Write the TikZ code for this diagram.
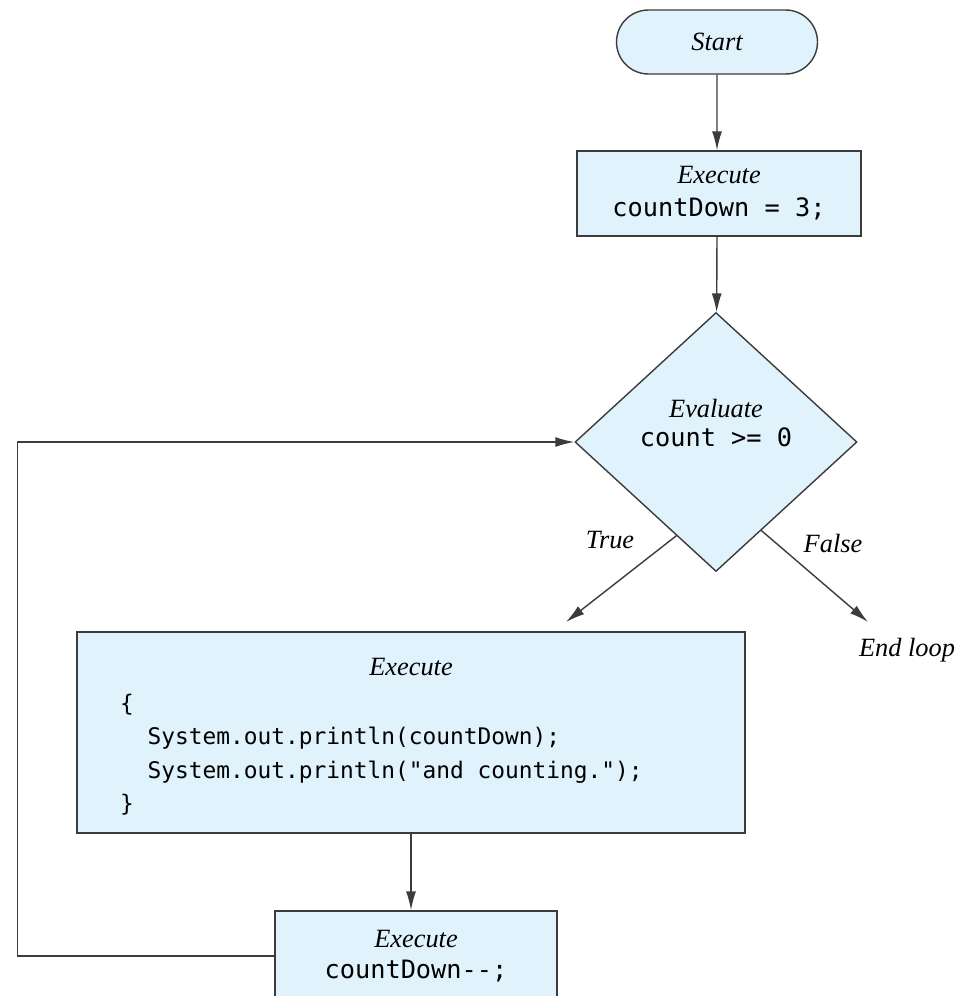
\documentclass[tikz,border=0pt]{standalone}
\usepackage{fontspec}
\setmainfont{Liberation Serif}
\setmonofont{DejaVu Sans Mono}
\usetikzlibrary{shapes.geometric,shapes.misc,arrows.meta,calc}

\definecolor{boxfill}{RGB}{224,242,252}
\definecolor{boxline}{RGB}{60,60,60}
\newcommand{\lbl}{\fontsize{15}{19}\selectfont\itshape}
\newcommand{\code}{\fontsize{14.4}{19}\selectfont\ttfamily}

\tikzset{
  stepbox/.style={draw=boxline,line width=0.8pt,fill=boxfill,align=center,inner sep=0pt,
    font=\fontsize{15}{18.8}\selectfont},
  flow/.style={draw=boxline,line width=0.8pt,-{Latex[length=0.38cm,width=0.2cm]}}
}

\begin{document}
\begin{tikzpicture}
\useasboundingbox (0,0) rectangle (19.46,-19.92);
% boxes of the loop
\node[stepbox,rounded rectangle,minimum width=4.02cm,minimum height=1.28cm] (start) at (14.34,-0.84) {\lbl Start};
\node[stepbox,minimum width=5.68cm,minimum height=1.7cm] (set) at (14.38,-3.87) {\lbl Execute\\ \code countDown = 3;};
\node[stepbox,diamond,aspect=1.09,minimum width=5.64cm,minimum height=5.18cm,font=\fontsize{15}{16.5}\selectfont] (test) at (14.32,-8.84)
  {\lbl Evaluate\\ \code count >= 0\\ \strut};
\node[stepbox,minimum width=13.36cm,minimum height=4.02cm,text width=11.64cm,inner xsep=0.86cm,align=left,
  text height=0.4cm,text depth=2.7cm] (body) at (8.22,-14.65)
  {{\centering\lbl Execute\par}\vspace{0.06cm}
   \fontsize{13}{19}\selectfont\ttfamily\spaceskip=0pt\xspaceskip=0pt
   \{\par
   \hphantom{xx}System.out.println(countDown);\par
   \hphantom{xx}System.out.println("and counting.");\par
   \}};
\node[stepbox,minimum width=5.64cm,minimum height=1.8cm,font=\fontsize{15}{18}\selectfont] (dec) at (8.32,-19.12) {\lbl Execute\\ \code countDown--;};
% branch labels
\node (true) at (12.2,-10.8) {\lbl True};
\node (false) at (16.66,-10.86) {\lbl False};
\node (endloop) at (18.14,-13.0) {\lbl End loop};
\coordinate (tend) at (11.32,-12.44);
\coordinate (fend) at (17.36,-12.44);
% arrows
\draw[flow] (start) -- (start |- set.north);
\draw[flow] (set.south -| start) -- (test);
\draw[flow] ($(test.west)!0.72!(test.south)$) -- (tend);
\draw[flow] ($(test.east)!0.68!(test.south)$) -- (fend);
\draw[flow] (body) -- (body |- dec.north);
\draw[flow] (dec.west) -- ++(-5.14,0) |- (test.west); % back to the test
\end{tikzpicture}
\end{document}
